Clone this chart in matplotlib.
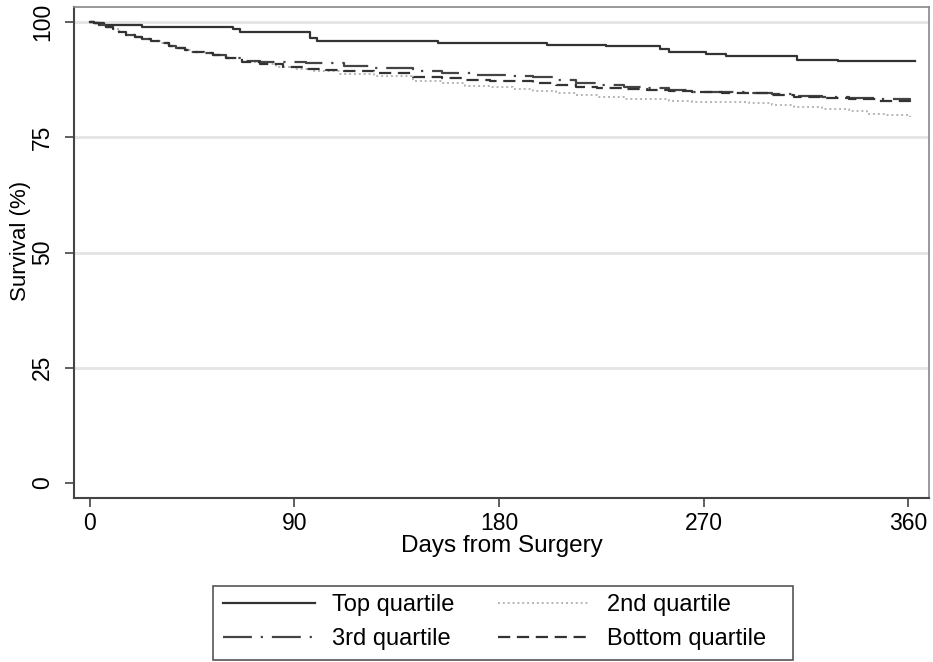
import matplotlib
matplotlib.use("Agg")
import matplotlib.pyplot as plt
from matplotlib.patches import Rectangle

plt.rcParams["font.family"] = ["Liberation Sans", "DejaVu Sans"]

# Kaplan-Meier curves (days, survival %)
giorni_top = [0, 2, 6, 23, 63, 66, 97, 100, 153, 201, 227, 251, 255, 271, 280, 311, 329, 363]
surv_top = [100, 99.7, 99.4, 99.0, 98.4, 97.9, 96.5, 95.9, 95.5, 95.1, 94.8, 94.2, 93.6,
            93.0, 92.6, 91.8, 91.5, 91.5]

giorni_2nd = [0, 2, 4, 7, 10, 13, 16, 20, 23, 27, 31, 35, 38, 42, 45, 50, 54, 60, 67, 75,
              82, 90, 98, 110, 125, 142, 155, 165, 176, 186, 195, 205, 214, 223, 235, 245,
              255, 265, 278, 290, 300, 310, 322, 334, 342, 350, 361]
surv_2nd = [100, 99.7, 99.4, 99.0, 98.5, 97.8, 97.2, 96.8, 96.4, 95.9, 95.4, 94.8, 94.3,
            93.9, 93.6, 93.2, 92.8, 92.1, 91.3, 90.8, 90.3, 89.8, 89.4, 88.8, 88.2, 87.3,
            86.7, 86.2, 85.9, 85.5, 85.1, 84.6, 84.2, 83.8, 83.4, 83.2, 82.9, 82.7, 82.6,
            82.4, 82.0, 81.6, 81.1, 80.6, 80.1, 79.8, 79.5]

giorni_3rd = [0, 2, 4, 7, 10, 13, 16, 20, 23, 27, 31, 35, 38, 42, 45, 50, 54, 60, 67, 75,
              85, 95, 104, 112, 125, 142, 155, 170, 186, 195, 205, 214, 223, 235, 245, 255,
              265, 278, 290, 300, 310, 322, 334, 346, 361]
surv_3rd = [100, 99.7, 99.4, 99.0, 98.5, 97.8, 97.2, 96.8, 96.4, 95.9, 95.4, 94.8, 94.3,
            93.9, 93.6, 93.2, 92.8, 92.1, 91.5, 91.4, 91.3, 91.1, 91.0, 90.5, 90.0, 89.4,
            89.0, 88.6, 88.3, 88.0, 87.4, 86.8, 86.3, 85.9, 85.6, 85.2, 84.9, 84.8, 84.7,
            84.4, 84.0, 83.8, 83.5, 83.3, 83.1]

giorni_bot = [0, 2, 4, 7, 10, 13, 16, 20, 23, 27, 31, 35, 38, 42, 45, 50, 54, 60, 67, 75,
              85, 95, 104, 112, 125, 142, 155, 165, 176, 186, 195, 205, 214, 223, 235, 245,
              255, 265, 278, 290, 300, 310, 322, 334, 346, 361]
surv_bot = [100, 99.7, 99.4, 99.0, 98.5, 97.8, 97.2, 96.8, 96.4, 95.9, 95.4, 94.8, 94.3,
            93.9, 93.6, 93.2, 92.8, 92.1, 91.4, 90.8, 90.3, 89.9, 89.6, 89.3, 88.9, 88.1,
            87.8, 87.5, 87.3, 87.1, 86.8, 86.3, 85.9, 85.6, 85.4, 85.2, 85.0, 84.9, 84.7,
            84.5, 84.1, 83.8, 83.5, 83.2, 82.8, 82.4]

x_ticks = [0, 90, 180, 270, 360]
y_ticks = [0, 25, 50, 75, 100]

fig = plt.figure(figsize=(9.33, 6.62), dpi=100)
ax = fig.add_axes([0.0793, 0.2477, 0.9164, 0.7417])

for y in y_ticks[1:]:
    ax.axhline(y, color="#e4e4e4", lw=2, zorder=0)

ax.step(giorni_top, surv_top, where="post", color="#333333", lw=1.6, label="Top quartile")
ax.step(giorni_2nd, surv_2nd, where="post", color="#b5b5b5", lw=1.4, linestyle=(0, (1, 1.5)),
        label="2nd quartile")
ax.step(giorni_3rd, surv_3rd, where="post", color="#444444", lw=1.6,
        linestyle=(0, (13, 4, 1, 4)), label="3rd quartile")
ax.step(giorni_bot, surv_bot, where="post", color="#333333", lw=1.6, linestyle=(0, (5.5, 3)),
        label="Bottom quartile")

ax.set_xlim(-7, 369.2)
ax.set_ylim(-3.25, 103.25)
ax.set_xticks(x_ticks)
ax.set_yticks(y_ticks)
ax.tick_params(axis="both", labelsize=16.5, length=6.5, width=1.2, color="#444444")
ax.tick_params(axis="y", pad=8)
for lab in ax.get_yticklabels():
    lab.set_rotation(90)
    lab.set_va("center")
for s in ["left", "bottom"]:
    ax.spines[s].set_color("#444444")
    ax.spines[s].set_linewidth(1.5)
for s in ["top", "right"]:
    ax.spines[s].set_color("#888888")
    ax.spines[s].set_linewidth(1.2)

ax.set_xlabel("Days from Surgery", fontsize=17.5, labelpad=0)
ax.set_ylabel("Survival (%)", fontsize=16)
ax.yaxis.set_label_coords(-0.050, 0.523)

# legenda senza cornice + cornice disegnata a parte (come in Stata)
h, l = ax.get_legend_handles_labels()
order = [0, 2, 1, 3]
fig.legend([h[i] for i in order], [l[i] for i in order], ncol=2, fontsize=17,
           loc="center left", bbox_to_anchor=(223 / 933, 40 / 662),
           handlelength=3.9, handletextpad=0.72, columnspacing=1.86, labelspacing=0.52,
           borderpad=0, borderaxespad=0, frameon=False)
fig.add_artist(Rectangle((213 / 933, 2 / 662), 580 / 933, 74 / 662,
                         transform=fig.transFigure, fill=False,
                         edgecolor="#555555", linewidth=1.2))

fig.savefig("out.png", dpi=100)
